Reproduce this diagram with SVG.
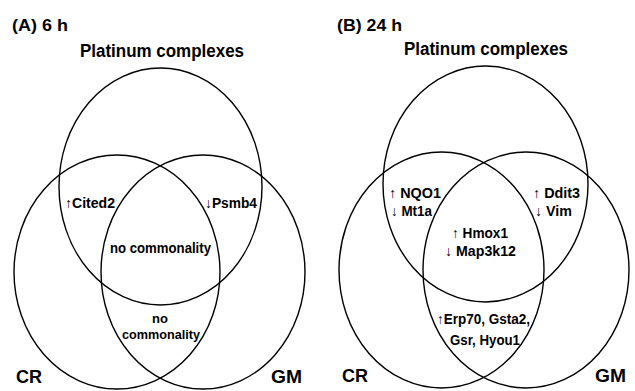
<svg xmlns="http://www.w3.org/2000/svg" width="635" height="391" viewBox="0 0 635 391">
<style>
.c{fill:none;stroke:#000;stroke-width:1.4}
text{font-family:"Liberation Sans","DejaVu Sans",sans-serif;font-weight:bold;fill:#000}
.h{font-size:17px}
.t{font-size:18px;text-anchor:middle}
.l{font-size:14px}
.m{font-size:14px;text-anchor:middle}
.n{font-size:13px;text-anchor:middle}
.s{font-size:19px}
</style>
<rect width="635" height="391" fill="#fff"/>
<g id="panelA">
  <text class="h" x="12" y="31" textLength="56" lengthAdjust="spacingAndGlyphs">(A) 6 h</text>
  <g id="A-platinum">
    <ellipse class="c" cx="160.5" cy="186.5" rx="101.5" ry="118.5"/>
    <text class="t" x="162" y="57" textLength="164" lengthAdjust="spacingAndGlyphs">Platinum complexes</text>
  </g>
  <g id="A-CR">
    <ellipse class="c" cx="117" cy="272" rx="103" ry="117"/>
    <text class="s" x="16" y="383" textLength="26" lengthAdjust="spacingAndGlyphs">CR</text>
  </g>
  <g id="A-GM">
    <ellipse class="c" cx="203" cy="272" rx="102" ry="117"/>
    <text class="s" x="271" y="383" textLength="31" lengthAdjust="spacingAndGlyphs">GM</text>
  </g>
  <g id="A-labels">
    <text class="l" x="65" y="208" textLength="50" lengthAdjust="spacingAndGlyphs">↑Cited2</text>
    <text class="l" x="205" y="208" textLength="52" lengthAdjust="spacingAndGlyphs">↓Psmb4</text>
    <text class="m" x="160.5" y="253" textLength="101" lengthAdjust="spacingAndGlyphs">no commonality</text>
    <text class="n" x="160" y="323">no</text>
    <text class="n" x="161" y="339" textLength="78" lengthAdjust="spacingAndGlyphs">commonality</text>
  </g>
</g>
<g id="panelB">
  <text class="h" x="337" y="31" textLength="65" lengthAdjust="spacingAndGlyphs">(B) 24 h</text>
  <g id="B-platinum">
    <ellipse class="c" cx="485.5" cy="184" rx="102.5" ry="118"/>
    <text class="t" x="486" y="55" textLength="164" lengthAdjust="spacingAndGlyphs">Platinum complexes</text>
  </g>
  <g id="B-CR">
    <ellipse class="c" cx="441.5" cy="270" rx="102.5" ry="118"/>
    <text class="s" x="342" y="382" textLength="26" lengthAdjust="spacingAndGlyphs">CR</text>
  </g>
  <g id="B-GM">
    <ellipse class="c" cx="526" cy="270" rx="103" ry="118"/>
    <text class="s" x="595" y="382" textLength="31" lengthAdjust="spacingAndGlyphs">GM</text>
  </g>
  <g id="B-labels">
    <text class="l" x="389" y="198" textLength="52" lengthAdjust="spacingAndGlyphs">↑ NQO1</text>
    <text class="l" x="391" y="216" textLength="41" lengthAdjust="spacingAndGlyphs">↓ Mt1a</text>
    <text class="l" x="533" y="198" textLength="47" lengthAdjust="spacingAndGlyphs">↑ Ddit3</text>
    <text class="l" x="535" y="216" textLength="37" lengthAdjust="spacingAndGlyphs">↓ Vim</text>
    <text class="m" x="480" y="238" textLength="56" lengthAdjust="spacingAndGlyphs">↑ Hmox1</text>
    <text class="m" x="480.5" y="256" textLength="71" lengthAdjust="spacingAndGlyphs">↓ Map3k12</text>
    <text class="m" x="483.5" y="324" textLength="93" lengthAdjust="spacingAndGlyphs">↑Erp70, Gsta2,</text>
    <text class="m" x="485" y="345" textLength="70" lengthAdjust="spacingAndGlyphs">Gsr, Hyou1</text>
  </g>
</g>
</svg>
